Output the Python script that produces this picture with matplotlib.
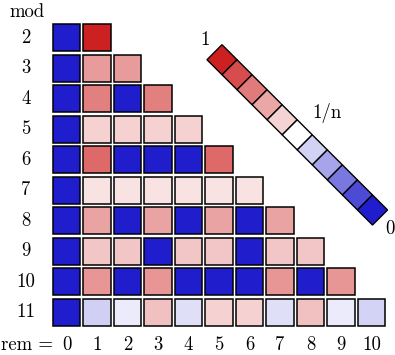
import numpy as np
import matplotlib
matplotlib.use("Agg")
import matplotlib.pyplot as plt
from matplotlib.patches import Rectangle, Polygon

# ---- data: fraction of values with each remainder, per modulus ----
moduli = [2, 3, 4, 5, 6, 7, 8, 9, 10, 11]
frac_mod2 = [0.0, 1.0]
frac_mod3 = [0.0, 0.5, 0.5]
frac_mod4 = [0.0, 0.5, 0.0, 0.5]
frac_mod5 = [0.0, 0.25, 0.25, 0.25, 0.25]
frac_mod6 = [0.0, 0.5, 0.0, 0.0, 0.0, 0.5]
frac_mod7 = [0.0, 1/6, 1/6, 1/6, 1/6, 1/6, 1/6]
frac_mod8 = [0.0, 0.25, 0.0, 0.25, 0.0, 0.25, 0.0, 0.25]
frac_mod9 = [0.0, 1/6, 1/6, 0.0, 1/6, 1/6, 0.0, 1/6, 1/6]
frac_mod10 = [0.0, 0.25, 0.0, 0.25, 0.0, 0.0, 0.0, 0.25, 0.0, 0.25]
frac_mod11 = [0.0, 0.072, 0.083, 0.15, 0.078, 0.127, 0.127, 0.078, 0.15, 0.083, 0.073]
fractions = [frac_mod2, frac_mod3, frac_mod4, frac_mod5, frac_mod6,
             frac_mod7, frac_mod8, frac_mod9, frac_mod10, frac_mod11]
remainders = list(range(11))

# colour key: signed positions (+1 = value 1, 0 = 1/n, -1 = value 0)
key_levels = [1.0, 0.8, 0.6, 0.4, 0.2, 0.0, -0.2, -0.4, -0.6, -0.8, -1.0]
key_labels = ["1", "1/n", "0"]

RED = np.array([205, 33, 33]) / 255
BLUE = np.array([32, 30, 204]) / 255
WHITE = np.array([1.0, 1.0, 1.0])


def level_color(s):
    if s >= 0:
        return WHITE * (1 - s) + RED * s
    s = -s
    return WHITE * (1 - s) + BLUE * s


def value_level(v, n):
    if v <= 0:
        return -1.0
    r = n * v
    if r >= 1:
        return min((np.log(r) / np.log(n)) ** 0.8, 1.0)
    return -(1 - r)


W, H = 395, 355
fig = plt.figure(figsize=(W / 100, H / 100), dpi=100)
ax = fig.add_axes([0, 0, 1, 1])
pitch = 30.5
x0c, y0c = 66.5, 37.75
ax.set_xlim(-x0c / pitch, (W - x0c) / pitch)
ax.set_ylim(2 + (H - y0c) / pitch, 2 - y0c / pitch)
ax.set_aspect("equal")
ax.axis("off")

font = dict(family=["cmr10", "DejaVu Serif"], fontsize=13.5, color="black")

cs = 0.9
for n, fr in zip(moduli, fractions):
    for r, v in enumerate(fr):
        ax.add_patch(Rectangle((r - cs / 2, n - cs / 2), cs, cs,
                               facecolor=level_color(value_level(v, n)),
                               edgecolor="black", linewidth=1.1))
    ax.text(-1.33, n, str(n), ha="center", va="center", **font)

for r in remainders:
    ax.text(r, 12.07, str(r), ha="center", va="center", **font)
ax.text(-0.43, 12.07, "rem =", ha="right", va="center", **font)
ax.text(-1.3, 1.17, "mod", ha="center", va="center", **font)

# diagonal colour key
start = np.array([4.852, 2.474])
end = np.array([10.279, 7.893])
nk = len(key_levels)
u = (end - start) / nk
perp = np.array([u[1], -u[0]])
for k, s in enumerate(key_levels):
    c = start + u * (k + 0.5)
    pts = [c - u / 2 - perp / 2, c + u / 2 - perp / 2,
           c + u / 2 + perp / 2, c - u / 2 + perp / 2]
    ax.add_patch(Polygon(pts, closed=True, facecolor=level_color(s),
                         edgecolor="black", linewidth=1.0))
ax.text(4.54, 2.07, key_labels[0], ha="center", va="center", **font)
ax.text(8.53, 4.47, key_labels[1], ha="center", va="center", **font)
ax.text(10.61, 8.27, key_labels[2], ha="center", va="center", **font)

fig.savefig("out.png", dpi=100)
